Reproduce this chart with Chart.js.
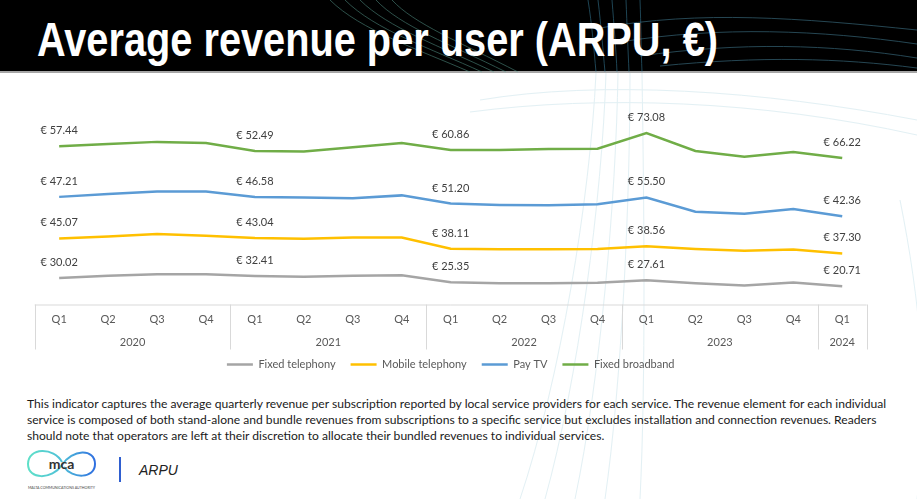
<!DOCTYPE html>
<html>
<head>
<meta charset="utf-8">
<title>ARPU</title>
<script src="https://cdn.jsdelivr.net/npm/chart.js@4.4.1/dist/chart.umd.min.js"></script>
<style>
  body { margin: 0; width: 917px; height: 499px; background: #fff; position: relative; overflow: hidden; font-family: Lato, sans-serif; }
  #header { position: absolute; left: 0; top: 0; width: 917px; height: 71px; background: #000; }
  #headerLine { position: absolute; left: 0; top: 71px; width: 917px; height: 2px; background: #a6a6a6; }
  #deco { position: absolute; left: 0; top: 0; width: 917px; height: 499px; }
  #title { position: absolute; left: 37px; top: 15px; color: #fff; font: bold 49px/48px "Liberation Sans Narrow", "Liberation Sans", Arial, sans-serif; white-space: nowrap; transform-origin: 0 0; }
  #chartBox { position: absolute; left: 0; top: 80px; width: 917px; height: 300px; }
  #note { position: absolute; left: 27px; top: 396px; font-size: 12.1px; line-height: 16px; color: #1a1a1a; white-space: nowrap; }
  #logo { position: absolute; left: 24px; top: 444px; }
  #sep { position: absolute; left: 119px; top: 457px; width: 2px; height: 25px; background: #2f5fd0; }
  #tag { position: absolute; left: 139px; top: 462px; font: italic 14px "Liberation Sans", Arial, sans-serif; color: #222; }
</style>
</head>
<body>
<div id="header"></div>
<div id="headerLine"></div>
<svg id="deco" viewBox="0 0 917 499" fill="none">
  <g stroke="#5fa89a" stroke-width="0.8" opacity="0.6">
    <path d="M330 0 C360 30 420 50 470 72"/>
    <path d="M345 0 C375 30 430 48 482 72"/>
    <path d="M360 0 C388 28 440 46 494 72"/>
    <path d="M376 0 C400 26 450 44 506 72"/>
    <path d="M392 0 C414 24 460 42 518 72"/>
  </g>
  <g stroke="#3f8fb0" stroke-width="0.8" opacity="0.6">
    <path d="M588 0 C592 25 594 50 596 72"/>
    <path d="M598 0 C601 25 603 50 605 72"/>
    <path d="M612 0 C614 25 616 50 617 72"/>
    <path d="M626 0 C627 25 628 50 629 72"/>
    <path d="M640 0 C641 25 641 50 642 72"/>
  </g>
  <g stroke="#4d8fa8" stroke-width="0.9" opacity="0.55">
    <path d="M600 28 C700 10 800 18 917 30"/>
    <path d="M620 42 C720 26 820 30 917 44"/>
    <path d="M640 56 C740 42 830 44 917 58"/>
    <path d="M660 66 C760 56 840 58 917 68"/>
  </g>
  <g stroke="#dcedf2" stroke-width="1" opacity="0.8">
    <path d="M596 73 C590 200 560 380 520 499"/>
    <path d="M606 73 C602 200 578 380 545 499"/>
    <path d="M618 73 C616 200 600 380 575 499"/>
    <path d="M630 73 C630 200 622 380 605 499"/>
    <path d="M642 73 C644 200 646 380 640 499"/>
    <path d="M480 100 C600 80 760 90 917 120"/>
    <path d="M470 112 C600 95 760 100 917 135"/>
    <path d="M900 200 C920 300 930 400 917 499"/>
  </g>
</svg>
<div id="title">Average revenue per user (ARPU, €)</div>
<div id="chartBox"><canvas id="arpuChart"></canvas></div>
<div id="note">This indicator captures the average quarterly revenue per subscription reported by local service providers for each service. The revenue element for each individual<br>service is composed of both stand-alone and bundle revenues from subscriptions to a specific service but excludes installation and connection revenues. Readers<br>should note that operators are left at their discretion to allocate their bundled revenues to individual services.</div>
<svg id="logo" width="80" height="50" viewBox="0 0 80 50">
  <defs>
    <linearGradient id="lg" x1="0" y1="0" x2="1" y2="0">
      <stop offset="0" stop-color="#5fe0c8"/>
      <stop offset="0.5" stop-color="#4fc0d8"/>
      <stop offset="1" stop-color="#2f6fe0"/>
    </linearGradient>
  </defs>
  <path d="M38 18 C30 3 4 3 4 20 C4 36 28 36 38 21 C48 5 71 4 71 20 C71 35 48 35 40 23" stroke="url(#lg)" stroke-width="2" fill="none"/>
  <text x="37.5" y="25" text-anchor="middle" font-family="Lato" font-weight="bold" font-size="14" fill="#333">mca</text>
  <text x="37.5" y="45" text-anchor="middle" font-family="Lato" font-size="3.6" fill="#444">MALTA COMMUNICATIONS AUTHORITY</text>
</svg>
<div id="sep"></div>
<div id="tag">ARPU</div>
<script>
// ---- data ----
const quarterLabels = ['Q1','Q2','Q3','Q4','Q1','Q2','Q3','Q4','Q1','Q2','Q3','Q4','Q1','Q2','Q3','Q4','Q1'];
const yearLabels = ['2020','2021','2022','2023','2024'];
const quartersPerYear = [4, 4, 4, 4, 1];
const seriesNames = ['Fixed telephony', 'Mobile telephony', 'Pay TV', 'Fixed broadband'];
const fixedTelephony = [30.02, 32.8, 34.3, 34.3, 32.41, 31.6, 32.8, 33.1, 25.35, 24.2, 24.2, 24.7, 27.61, 24.2, 21.6, 25.1, 20.71];
const mobileTelephony = [45.07, 44.6, 45.8, 43.9, 43.04, 43.1, 43.4, 43.1, 38.11, 38.6, 38.6, 38.5, 38.56, 39.0, 39.6, 37.3, 37.30];
const payTV = [47.21, 48.3, 48.4, 50.3, 46.58, 47.0, 44.4, 47.8, 51.20, 50.4, 50.0, 50.8, 55.50, 42.3, 42.0, 46.1, 42.36];
const fixedBroadband = [57.44, 56.7, 56.3, 55.1, 52.49, 52.3, 58.0, 59.6, 60.86, 62.3, 63.9, 63.1, 73.08, 68.9, 64.7, 64.7, 66.22];
const labelIndexes = [0, 4, 8, 12, 16];

const colors = ['#a5a5a5', '#ffc000', '#5b9bd5', '#70ad47'];
const allSeries = [fixedTelephony, mobileTelephony, payTV, fixedBroadband];

// squeeze the title to the narrow width of the original
const title = document.getElementById('title');
title.style.transform = 'scaleX(' + (681 / title.getBoundingClientRect().width) + ')';

// categories combine quarter and year
const categories = [];
let k = 0;
yearLabels.forEach((y, i) => {
  for (let q = 0; q < quartersPerYear[i]; q++) { categories.push(quarterLabels[k] + ' ' + y); k++; }
});

// value labels above Q1 points
const valueLabels = {
  id: 'valueLabels',
  afterDatasetsDraw(chart) {
    const c = chart.ctx;
    c.save();
    c.font = '11px Lato';
    c.fillStyle = '#404040';
    c.textAlign = 'center';
    c.textBaseline = 'middle';
    chart.data.datasets.forEach((ds, d) => {
      const meta = chart.getDatasetMeta(d);
      labelIndexes.forEach(i => {
        const p = meta.data[i];
        c.fillText('€ ' + ds.data[i].toFixed(2), p.x, p.y - 15.5);
      });
    });
    c.restore();
  }
};

// two level category axis (quarters + years) with box lines
const groupedAxis = {
  id: 'groupedAxis',
  afterDraw(chart) {
    const c = chart.ctx;
    const xs = chart.scales.x;
    const band = xs.getPixelForValue(1) - xs.getPixelForValue(0);
    const top = chart.chartArea.bottom;
    const bottom = top + 45;
    const left = xs.getPixelForValue(0) - band / 2;
    const right = xs.getPixelForValue(categories.length - 1) + band / 2;
    c.save();
    c.strokeStyle = '#d9d9d9';
    c.lineWidth = 1;
    c.beginPath();
    c.moveTo(left, top + 0.5);
    c.lineTo(right, top + 0.5);
    let start = 0;
    const bounds = [0];
    quartersPerYear.forEach(n => { start += n; bounds.push(start); });
    bounds.forEach(b => {
      const x = Math.round(left + b * band) + 0.5;
      c.moveTo(x, top);
      c.lineTo(x, bottom);
    });
    c.stroke();
    c.font = '11px Lato';
    c.fillStyle = '#595959';
    c.textAlign = 'center';
    c.textBaseline = 'middle';
    quarterLabels.forEach((q, i) => c.fillText(q, xs.getPixelForValue(i), top + 15));
    yearLabels.forEach((y, i) => {
      const mid = left + (bounds[i] + bounds[i + 1]) / 2 * band;
      c.fillText(y, mid, top + 37.5);
    });
    c.restore();
  }
};

new Chart(document.getElementById('arpuChart'), {
  type: 'line',
  data: {
    labels: categories,
    datasets: seriesNames.map((name, i) => ({
      label: name,
      data: allSeries[i],
      borderColor: colors[i],
      backgroundColor: colors[i],
      borderWidth: 2.5,
      pointRadius: 0,
      pointStyle: 'line',
      tension: 0,
      fill: false
    }))
  },
  options: {
    responsive: true,
    maintainAspectRatio: false,
    animation: false,
    layout: { padding: { left: 34.7, right: 50.3, top: 48.5, bottom: 0 } },
    scales: {
      x: {
        offset: true,
        grid: { display: false },
        border: { display: false },
        ticks: { display: false },
        afterFit: s => { s.height = 39.5; }
      },
      y: { display: false, stacked: true, min: 0, max: 200 }
    },
    plugins: {
      legend: {
        position: 'bottom',
        labels: {
          usePointStyle: true,
          pointStyle: 'line',
          pointStyleWidth: 26,
          boxHeight: 11,
          padding: 15,
          color: '#595959',
          font: { family: 'Lato', size: 11 }
        }
      },
      tooltip: { enabled: false }
    }
  },
  plugins: [valueLabels, groupedAxis]
});
</script>
</body>
</html>
